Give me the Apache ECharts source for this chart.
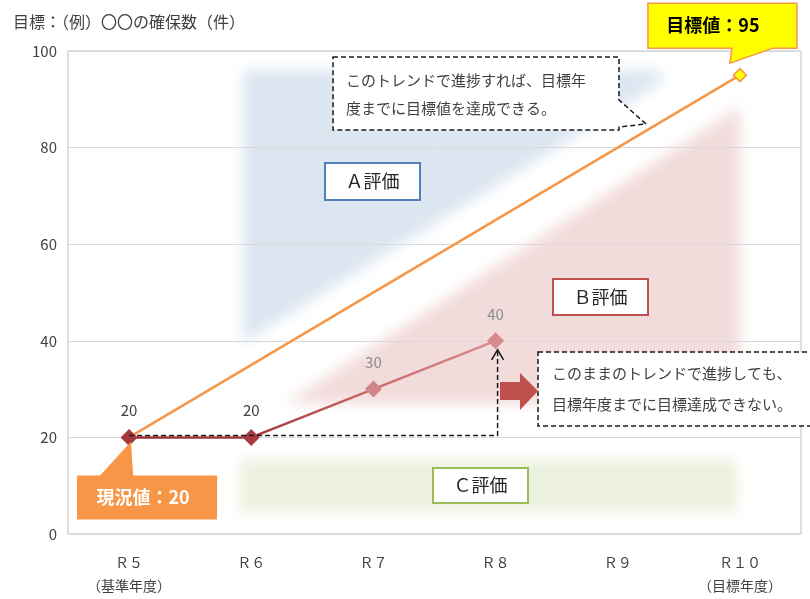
<!DOCTYPE html>
<html>
<head>
<meta charset="utf-8">
<script src="https://cdn.jsdelivr.net/npm/echarts@6/dist/echarts.min.js"></script>
<style>
  html, body { margin: 0; padding: 0; background: #fff; }
  #chart { width: 810px; height: 599px; }
</style>
</head>
<body>
<div id="chart"></div>
<script>
// ---- data ----
const categories = ['Ｒ５\n（基準年度）', 'Ｒ６', 'Ｒ７', 'Ｒ８', 'Ｒ９', 'Ｒ１０\n（目標年度）'];
const targetTrend = [20, null, null, null, null, 95];   // baseline -> goal
const actualTrend = [20, 20, 30, 40, null, null];      // results so far
const yMin = 0, yMax = 100, yStep = 20;
const yTitle = '目標：（例）〇〇の確保数（件）';
const currentLabel = '現況値：20';
const goalLabel = '目標値：95';
const noteOnTrack = ['このトレンドで進捗すれば、目標年', '度までに目標値を達成できる。'];
const noteOffTrack = ['このままのトレンドで進捗しても、', '目標年度までに目標達成できない。'];
const bandNames = ['Ａ評価', 'Ｂ評価', 'Ｃ評価'];

// ---- styles ----
const FONT = '"Noto Sans CJK JP", "Noto Sans", sans-serif';
const markerShades = ['#a3373b', '#a63a3e', '#d08586', '#d88a8b'];
const labelShades = ['#404040', '#404040', '#8c8c8c', '#8c8c8c'];

const chart = echarts.init(document.getElementById('chart'), null, { renderer: 'canvas' });

chart.setOption({
  animation: false,
  backgroundColor: '#ffffff',
  textStyle: { fontFamily: FONT },
  title: {
    text: yTitle, left: 8, top: 9,
    textStyle: { fontFamily: FONT, fontSize: 16, fontWeight: 'normal', color: '#404040' }
  },
  grid: {
    left: 68, right: 9, top: 51, bottom: 65,
    show: true, borderColor: '#bfbfbf', borderWidth: 1, backgroundColor: 'transparent'
  },
  xAxis: {
    type: 'category', data: categories, boundaryGap: true,
    axisLine: { show: false }, axisTick: { show: false },
    axisLabel: { interval: 0, fontFamily: FONT, fontSize: 14, lineHeight: 23, color: '#404040', margin: 17 }
  },
  yAxis: {
    type: 'value', min: yMin, max: yMax, interval: yStep,
    axisLine: { show: false }, axisTick: { show: false },
    axisLabel: { fontFamily: FONT, fontSize: 15, color: '#404040', margin: 11 },
    splitLine: { lineStyle: { color: '#d9d9d9', width: 1 } }
  },
  series: [
    {
      name: 'target', type: 'line', z: 3, connectNulls: true,
      data: targetTrend.map((v, i) => (i === 0 ? { value: v, symbol: 'none' } : v)),
      symbol: 'diamond', symbolSize: 13,
      lineStyle: { color: '#f79646', width: 2.5 },
      itemStyle: { color: '#ffff00', borderColor: '#f79646', borderWidth: 1.5 }
    },
    {
      name: 'actual', type: 'line', z: 4,
      data: actualTrend.map((v, i) => v === null ? null : ({
        value: v,
        itemStyle: { color: markerShades[i] },
        label: { color: labelShades[i] }
      })),
      symbol: 'diamond', symbolSize: 17,
      lineStyle: {
        width: 2.5,
        color: new echarts.graphic.LinearGradient(0, 0, 1, 0, [
          { offset: 0, color: '#9c2f33' },
          { offset: 0.34, color: '#a5373a' },
          { offset: 0.66, color: '#c96a6c' },
          { offset: 1, color: '#da8d8e' }
        ])
      },
      label: { show: true, position: 'top', distance: 11, fontFamily: FONT, fontSize: 15 }
    }
  ]
});

// ---- annotations placed from the axes' scales ----
const p = (i, v) => chart.convertToPixel({ xAxisIndex: 0, yAxisIndex: 0 }, [i, v]);
const origin = p(0, yMin), far = p(5, yMax);
const X = i => origin[0] + (far[0] - origin[0]) * i / 5;
const Y = v => origin[1] + (far[1] - origin[1]) * (v - yMin) / (yMax - yMin);
const pts = arr => arr.map(([i, v]) => [X(i), Y(v)]);

// soft-edged band: shape drawn off canvas, only its blurred shadow lands in place
const SHIFT = 3000;
function softBand(points, color, blur) {
  return {
    type: 'polygon', z: -10, silent: true,
    shape: { points: points.map(([x, y]) => [x - SHIFT, y]) },
    style: { fill: color, shadowBlur: blur, shadowColor: color, shadowOffsetX: SHIFT, shadowOffsetY: 0 }
  };
}

const bandA = pts([[0.93, 96], [4.36, 96], [4.36, 93.5], [0.93, 39.5]]);
const bandB = pts([[1.28, 27], [5.0, 88.5], [5.0, 27]]);
const bandC = pts([[0.91, 15.3], [4.98, 15.3], [4.98, 4.6], [0.91, 4.6]]);

function tagBox(x, y, w, h, stroke, text) {
  return [
    { type: 'rect', z: 20, shape: { x, y, width: w, height: h },
      style: { fill: '#ffffff', stroke, lineWidth: 2 } },
    { type: 'text', z: 21, x: x + w / 2, y: y + h / 2,
      style: { text, fill: '#262626', font: '18px ' + FONT, align: 'center', verticalAlign: 'middle' } }
  ];
}

const p0 = p(0, actualTrend[0]);
const p3 = p(3, actualTrend[3]);
const p5 = p(5, targetTrend[5]);

const dashed = { stroke: '#1a1a1a', lineWidth: 1.5, lineDash: [5, 3], fill: '#ffffff' };

const graphics = [
  softBand(bandA, '#dce6f1', 14),
  softBand(bandB, '#f2dcdb', 14),
  softBand(bandC, '#ebf1de', 12),

  ...tagBox(325, 163, 95, 37, '#4f81bd', bandNames[0]),
  ...tagBox(553, 279, 95, 36, '#c0504d', bandNames[1]),
  ...tagBox(433, 468, 95, 35, '#9bbb59', bandNames[2]),

  // elbow guide from the baseline up to R8
  { type: 'polyline', z: 15,
    shape: { points: [[p0[0], p0[1] - 2], [p3[0] + 2, p0[1] - 2], [p3[0] + 2, p3[1] + 9]] },
    style: { stroke: '#1a1a1a', lineWidth: 1.5, lineDash: [5, 3], fill: null } },
  { type: 'polyline', z: 15,
    shape: { points: [[p3[0] - 4, p3[1] + 19], [p3[0] + 2, p3[1] + 9], [p3[0] + 8, p3[1] + 19]] },
    style: { stroke: '#1a1a1a', lineWidth: 1.5, fill: null } },

  // note: on track
  { type: 'polygon', z: 20,
    shape: { points: [[333, 57], [619, 57], [619, 100], [646, 124], [619, 127], [619, 130], [333, 130]] },
    style: dashed },
  { type: 'text', z: 21, x: 346, y: 80,
    style: { text: noteOnTrack[0], fill: '#404040', font: '15px ' + FONT, verticalAlign: 'middle' } },
  { type: 'text', z: 21, x: 346, y: 108,
    style: { text: noteOnTrack[1], fill: '#404040', font: '15px ' + FONT, verticalAlign: 'middle' } },

  // note: off track
  { type: 'rect', z: 20, shape: { x: 538, y: 352, width: 280, height: 74 }, style: dashed },
  { type: 'text', z: 21, x: 552, y: 373,
    style: { text: noteOffTrack[0], fill: '#404040', font: '15px ' + FONT, verticalAlign: 'middle' } },
  { type: 'text', z: 21, x: 552, y: 404,
    style: { text: noteOffTrack[1], fill: '#404040', font: '15px ' + FONT, verticalAlign: 'middle' } },

  // block arrow
  { type: 'polygon', z: 20,
    shape: { points: [[500, 382], [520, 382], [520, 373], [538, 391], [520, 410], [520, 400], [500, 400]] },
    style: { fill: '#c0504d' } },

  // current value callout
  { type: 'polygon', z: 22,
    shape: { points: [
      [p0[0] - 52, p0[1] + 38], [p0[0] - 29, p0[1] + 38], [p0[0] + 2, p0[1] + 4], [p0[0] + 4, p0[1] + 38],
      [p0[0] + 88, p0[1] + 38], [p0[0] + 88, p0[1] + 82], [p0[0] - 52, p0[1] + 82]] },
    style: { fill: '#f79646' } },
  { type: 'text', z: 23, x: p0[0] + 14, y: p0[1] + 60,
    style: { text: currentLabel, fill: '#ffffff', font: 'bold 18px ' + FONT, align: 'center', verticalAlign: 'middle' } },

  // goal callout
  { type: 'polygon', z: 22,
    shape: { points: [
      [p5[0] - 92, p5[1] - 72], [p5[0] + 57, p5[1] - 72], [p5[0] + 57, p5[1] - 27], [p5[0] + 33, p5[1] - 27],
      [p5[0] - 10, p5[1] - 12], [p5[0] - 8, p5[1] - 27], [p5[0] - 92, p5[1] - 27]] },
    style: { fill: '#ffff00', stroke: '#f79646', lineWidth: 1.5 } },
  { type: 'text', z: 23, x: p5[0] - 27, y: p5[1] - 50,
    style: { text: goalLabel, fill: '#000000', font: 'bold 18px ' + FONT, align: 'center', verticalAlign: 'middle' } }
];

chart.setOption({ graphic: graphics });
</script>
</body>
</html>
